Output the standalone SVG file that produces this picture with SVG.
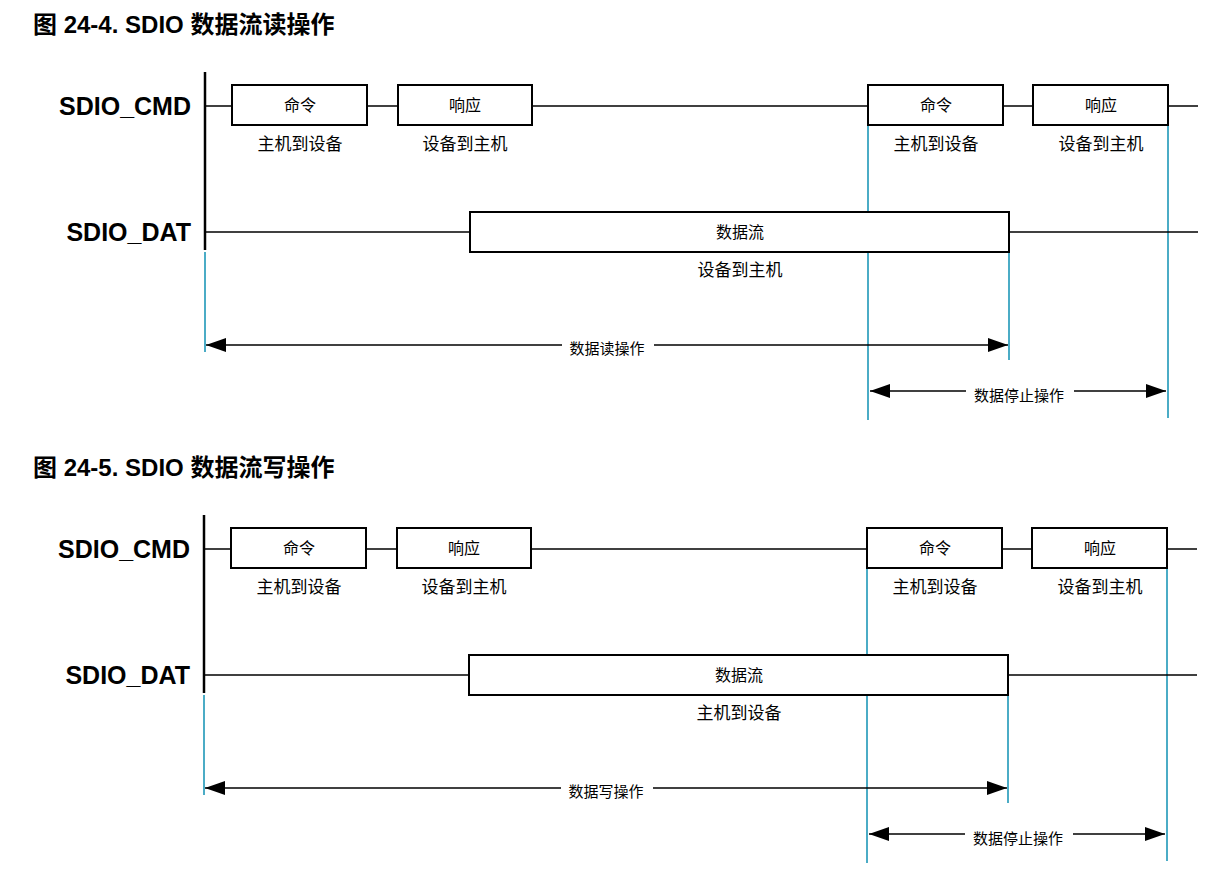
<svg xmlns="http://www.w3.org/2000/svg" width="1220" height="881" viewBox="0 0 1220 881">
<defs>
<style>
.t{font-family:"Liberation Sans","Noto Sans CJK SC",sans-serif;font-weight:bold;font-size:24px;fill:#000}
.sig{font-family:"Liberation Sans","Noto Sans CJK SC",sans-serif;font-weight:bold;font-size:25px;fill:#000;text-anchor:end}
.bt{font-family:"Noto Sans CJK SC",sans-serif;font-size:16px;fill:#000;text-anchor:middle}
.st{font-family:"Noto Sans CJK SC",sans-serif;font-size:17px;fill:#000;text-anchor:middle}
.at{font-family:"Noto Sans CJK SC",sans-serif;font-size:15px;fill:#000;text-anchor:middle}
.box{fill:#fff;stroke:#000;stroke-width:2}
.ln{stroke:#000;stroke-width:1.5;fill:none}
.ax{stroke:#000;stroke-width:2.5}
.bl{stroke:#4bacc6;stroke-width:2}
.ar{stroke:#000;stroke-width:1.5;marker-start:url(#a);marker-end:url(#a)}
</style>
<marker id="a" viewBox="0 0 20 14" refX="20" refY="7" markerWidth="20" markerHeight="14" markerUnits="userSpaceOnUse" orient="auto-start-reverse"><path d="M0,0L20,7L0,14z" fill="#000"/></marker>
</defs>
<text class="t" x="33" y="33">图 24-4. SDIO 数据流读操作</text>
<text class="t" x="33" y="476">图 24-5. SDIO 数据流写操作</text>
<g id="d1">
<g id="connectors1">
<line class="bl" x1="205" y1="252" x2="205" y2="352"/>
<line class="bl" x1="868" y1="125" x2="868" y2="420"/>
<line class="bl" x1="1009" y1="252" x2="1009" y2="360"/>
<line class="bl" x1="1168" y1="125" x2="1168" y2="418"/>
<line class="ax" x1="205" y1="72" x2="205" y2="250"/>
<line class="ln" x1="205" y1="106" x2="1198" y2="106"/>
<line class="ln" x1="205" y1="232" x2="1198" y2="232"/>
<line class="ar" x1="206" y1="345" x2="1008" y2="345"/>
<line class="ar" x1="870" y1="391" x2="1166" y2="391"/>
</g>
<text class="sig" x="191" y="115">SDIO_CMD</text>
<text class="sig" x="191" y="241">SDIO_DAT</text>
<g id="c1"><rect class="box" x="232" y="85" width="135" height="40"/><text class="bt" x="300" y="111">命令</text><text class="st" x="300" y="150">主机到设备</text></g>
<g id="r1"><rect class="box" x="398" y="85" width="134" height="40"/><text class="bt" x="465" y="111">响应</text><text class="st" x="465" y="150">设备到主机</text></g>
<g id="c2"><rect class="box" x="868" y="85" width="135" height="40"/><text class="bt" x="936" y="111">命令</text><text class="st" x="936" y="150">主机到设备</text></g>
<g id="r2"><rect class="box" x="1033" y="85" width="135" height="40"/><text class="bt" x="1101" y="111">响应</text><text class="st" x="1101" y="150">设备到主机</text></g>
<g id="ds1"><rect class="box" x="470" y="212" width="539" height="40"/><text class="bt" x="740" y="238">数据流</text><text class="st" x="740" y="276">设备到主机</text></g>
<rect x="562" y="335" width="92" height="20" fill="#fff"/><text class="at" x="607" y="354">数据读操作</text>
<rect x="966" y="381" width="108" height="20" fill="#fff"/><text class="at" x="1019" y="401">数据停止操作</text>
</g>
<g id="d2" transform="translate(-1,443)">
<g id="connectors2">
<line class="bl" x1="205" y1="252" x2="205" y2="352"/>
<line class="bl" x1="868" y1="125" x2="868" y2="420"/>
<line class="bl" x1="1009" y1="252" x2="1009" y2="360"/>
<line class="bl" x1="1168" y1="125" x2="1168" y2="418"/>
<line class="ax" x1="205" y1="72" x2="205" y2="250"/>
<line class="ln" x1="205" y1="106" x2="1198" y2="106"/>
<line class="ln" x1="205" y1="232" x2="1198" y2="232"/>
<line class="ar" x1="206" y1="345" x2="1008" y2="345"/>
<line class="ar" x1="870" y1="391" x2="1166" y2="391"/>
</g>
<text class="sig" x="191" y="115">SDIO_CMD</text>
<text class="sig" x="191" y="241">SDIO_DAT</text>
<g id="c3"><rect class="box" x="232" y="85" width="135" height="40"/><text class="bt" x="300" y="111">命令</text><text class="st" x="300" y="150">主机到设备</text></g>
<g id="r3"><rect class="box" x="398" y="85" width="134" height="40"/><text class="bt" x="465" y="111">响应</text><text class="st" x="465" y="150">设备到主机</text></g>
<g id="c4"><rect class="box" x="868" y="85" width="135" height="40"/><text class="bt" x="936" y="111">命令</text><text class="st" x="936" y="150">主机到设备</text></g>
<g id="r4"><rect class="box" x="1033" y="85" width="135" height="40"/><text class="bt" x="1101" y="111">响应</text><text class="st" x="1101" y="150">设备到主机</text></g>
<g id="ds2"><rect class="box" x="470" y="212" width="539" height="40"/><text class="bt" x="740" y="238">数据流</text><text class="st" x="740" y="276">主机到设备</text></g>
<rect x="562" y="335" width="92" height="20" fill="#fff"/><text class="at" x="607" y="354">数据写操作</text>
<rect x="966" y="381" width="108" height="20" fill="#fff"/><text class="at" x="1019" y="401">数据停止操作</text>
</g>
</svg>
